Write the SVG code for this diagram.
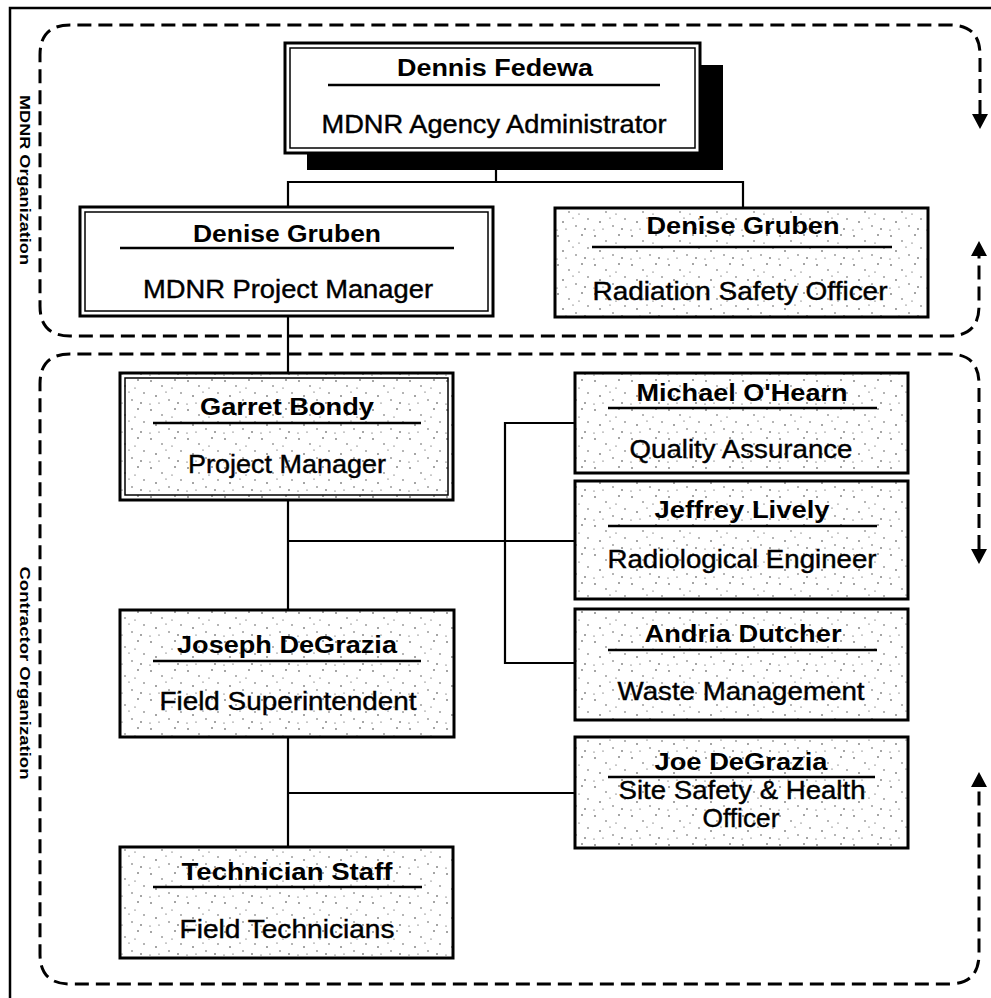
<svg xmlns="http://www.w3.org/2000/svg" width="991" height="998" viewBox="0 0 991 998">
<style>
.frame{fill:none;stroke:#000;stroke-width:2.5}
.org{fill:none;stroke:#000;stroke-width:3;stroke-dasharray:14 7}
.box{fill:#fff;stroke:#000;stroke-width:3}
.sbox{fill:url(#stip);stroke:#000;stroke-width:3}
.inner{fill:none;stroke:#000;stroke-width:1.5}
.ul{stroke:#000;stroke-width:2.5}
.conn{fill:none;stroke:#000;stroke-width:2.2}
.name{font-family:"Liberation Sans",Arial,sans-serif;font-weight:bold;font-size:23px;text-anchor:middle;fill:#000}
.title{font-family:"Liberation Sans",Arial,sans-serif;font-size:25px;text-anchor:middle;fill:#000;stroke:#000;stroke-width:0.4}
.side{font-family:"Liberation Sans",Arial,sans-serif;font-weight:bold;font-size:15px;text-anchor:middle;fill:#000}
</style>
<defs>
<pattern id="stip" width="37" height="29" patternUnits="userSpaceOnUse">
<rect width="37" height="29" fill="#fff"/>
<g fill="#333">
<circle cx="3" cy="4" r="0.8"/><circle cx="14" cy="9" r="0.7"/><circle cx="27" cy="3" r="0.8"/>
<circle cx="33" cy="16" r="0.7"/><circle cx="8" cy="19" r="0.8"/><circle cx="21" cy="23" r="0.7"/>
<circle cx="18" cy="15" r="0.6"/><circle cx="30" cy="26" r="0.8"/><circle cx="2" cy="27" r="0.6"/>
<circle cx="11" cy="26" r="0.6"/><circle cx="24" cy="11" r="0.6"/>
</g>
</pattern>
</defs>

<path class="frame" d="M10,998 V8 H991"/>

<g id="mdnr-org">
<path class="org" d="M980,114 V55 Q980,25 950,25 H70 Q40,25 40,55 V306 Q40,336 70,336 H949 Q979,336 979,306 V256"/>
<polygon points="972,114 988,114 980,129"/>
<polygon points="971,256 987,256 979,241"/>
<text class="side" transform="translate(25,180) rotate(90)" dy="5" textLength="170" lengthAdjust="spacingAndGlyphs">MDNR Organization</text>
</g>

<g id="contractor-org">
<path class="org" d="M979,549 V384 Q979,354 949,354 H70 Q40,354 40,384 V954 Q40,984 70,984 H949 Q979,984 979,954 V787"/>
<polygon points="971,549 987,549 979,564"/>
<polygon points="971,787 987,787 979,772"/>
<text class="side" transform="translate(25,673) rotate(90)" dy="5" textLength="213" lengthAdjust="spacingAndGlyphs">Contractor Organization</text>
</g>

<g id="connectors">
<path class="conn" d="M496,170 V182 M288,207 V182 H743 V208"/>
<path class="conn" d="M288,316 V373"/>
<path class="conn" d="M288,500 V610"/>
<path class="conn" d="M288,541 H575"/>
<path class="conn" d="M575,423 H505 V663 H575"/>
<path class="conn" d="M288,737 V847"/>
<path class="conn" d="M288,793 H575"/>
</g>

<g id="fedewa">
<rect x="307" y="65" width="416" height="105" fill="#000"/>
<rect class="box" x="285" y="43" width="415" height="110"/>
<rect class="inner" x="290" y="48" width="405" height="100"/>
<text class="name" x="495" y="76" textLength="196" lengthAdjust="spacingAndGlyphs">Dennis Fedewa</text>
<line class="ul" x1="328" y1="85" x2="660" y2="85"/>
<text class="title" x="494" y="133" textLength="345" lengthAdjust="spacingAndGlyphs">MDNR Agency Administrator</text>
</g>

<g id="gruben-pm">
<rect class="box" x="80" y="207" width="413" height="109"/>
<rect class="inner" x="85" y="212" width="403" height="99"/>
<text class="name" x="287" y="242" textLength="188" lengthAdjust="spacingAndGlyphs">Denise Gruben</text>
<line class="ul" x1="120" y1="248" x2="454" y2="248"/>
<text class="title" x="288" y="298" textLength="290" lengthAdjust="spacingAndGlyphs">MDNR Project Manager</text>
</g>

<g id="gruben-rso">
<rect class="sbox" x="555" y="208" width="373" height="109"/>
<text class="name" x="743" y="234" textLength="193" lengthAdjust="spacingAndGlyphs">Denise Gruben</text>
<line class="ul" x1="592" y1="247" x2="892" y2="247"/>
<text class="title" x="740" y="300" textLength="295" lengthAdjust="spacingAndGlyphs">Radiation Safety Officer</text>
</g>

<g id="bondy">
<rect class="sbox" x="120" y="373" width="333" height="127"/>
<rect class="inner" x="125" y="378" width="323" height="117"/>
<text class="name" x="287" y="415" textLength="174" lengthAdjust="spacingAndGlyphs">Garret Bondy</text>
<line class="ul" x1="153" y1="423" x2="421" y2="423"/>
<text class="title" x="287" y="473" textLength="198" lengthAdjust="spacingAndGlyphs">Project Manager</text>
</g>

<g id="degrazia-fs">
<rect class="sbox" x="120" y="610" width="334" height="127"/>
<text class="name" x="287" y="653" textLength="220" lengthAdjust="spacingAndGlyphs">Joseph DeGrazia</text>
<line class="ul" x1="153" y1="661" x2="421" y2="661"/>
<text class="title" x="288" y="710" textLength="257" lengthAdjust="spacingAndGlyphs">Field Superintendent</text>
</g>

<g id="technicians">
<rect class="sbox" x="120" y="847" width="333" height="111"/>
<text class="name" x="287" y="880" textLength="211" lengthAdjust="spacingAndGlyphs">Technician Staff</text>
<line class="ul" x1="153" y1="887" x2="422" y2="887"/>
<text class="title" x="287" y="938" textLength="215" lengthAdjust="spacingAndGlyphs">Field Technicians</text>
</g>

<g id="ohearn">
<rect class="sbox" x="575" y="373" width="333" height="100"/>
<text class="name" x="742" y="401" textLength="211" lengthAdjust="spacingAndGlyphs">Michael O'Hearn</text>
<line class="ul" x1="608" y1="408" x2="877" y2="408"/>
<text class="title" x="741" y="458" textLength="223" lengthAdjust="spacingAndGlyphs">Quality Assurance</text>
</g>

<g id="lively">
<rect class="sbox" x="575" y="481" width="333" height="118"/>
<text class="name" x="742" y="518" textLength="175" lengthAdjust="spacingAndGlyphs">Jeffrey Lively</text>
<line class="ul" x1="608" y1="526" x2="877" y2="526"/>
<text class="title" x="742" y="568" textLength="269" lengthAdjust="spacingAndGlyphs">Radiological Engineer</text>
</g>

<g id="dutcher">
<rect class="sbox" x="575" y="609" width="333" height="111"/>
<text class="name" x="743" y="642" textLength="197" lengthAdjust="spacingAndGlyphs">Andria Dutcher</text>
<line class="ul" x1="608" y1="650" x2="877" y2="650"/>
<text class="title" x="741" y="700" textLength="247" lengthAdjust="spacingAndGlyphs">Waste Management</text>
</g>

<g id="degrazia-ssho">
<rect class="sbox" x="575" y="737" width="333" height="111"/>
<text class="name" x="741" y="770" textLength="173" lengthAdjust="spacingAndGlyphs">Joe DeGrazia</text>
<line class="ul" x1="608" y1="777" x2="875" y2="777"/>
<text class="title" x="742" y="799" textLength="247" lengthAdjust="spacingAndGlyphs">Site Safety &amp; Health</text>
<text class="title" x="741" y="827" textLength="77" lengthAdjust="spacingAndGlyphs">Officer</text>
</g>
</svg>
